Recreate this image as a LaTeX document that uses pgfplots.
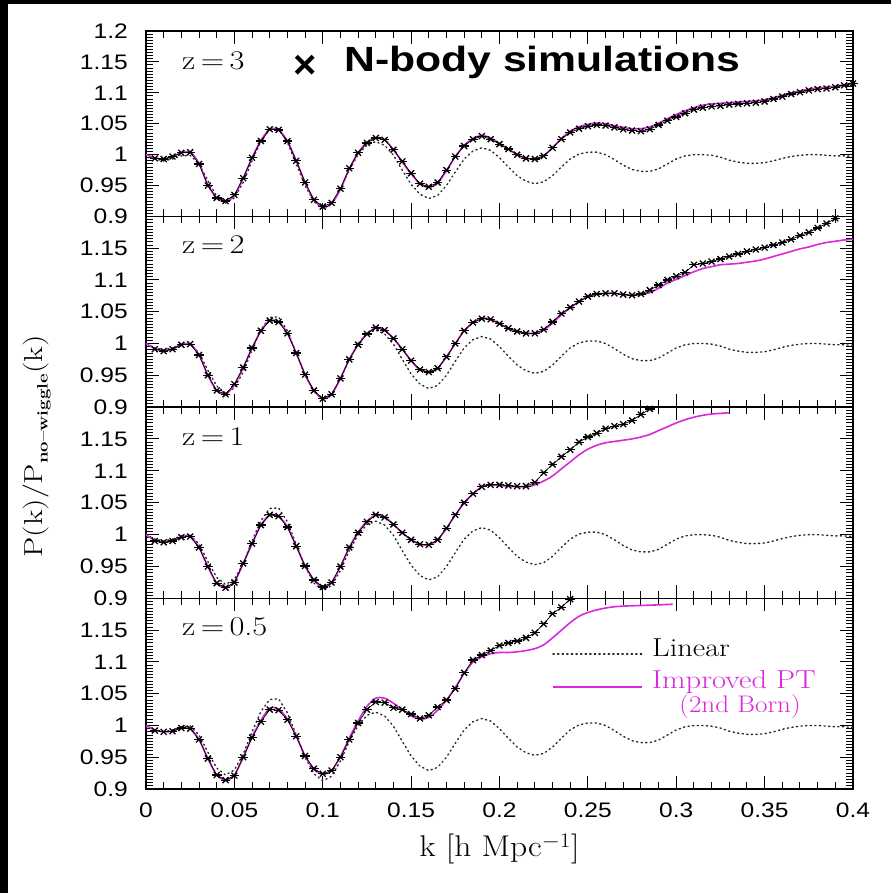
\documentclass[border=0pt]{standalone}
\usepackage{fontspec}
\usepackage{pgfplots}
\pgfplotsset{compat=1.18}
\usepackage{pgfplotstable}
\newfontfamily\tickfont{Liberation Sans}
\definecolor{ptmag}{RGB}{220,40,220}

\pgfplotstableread{
k L
0.000 1.000
0.005 0.993
0.010 0.990
0.015 0.993
0.020 0.998
0.025 0.999
0.030 0.985
0.035 0.958
0.040 0.933
0.045 0.922
0.050 0.930
0.055 0.955
0.060 0.990
0.065 1.022
0.070 1.041
0.075 1.042
0.080 1.020
0.085 0.985
0.090 0.950
0.095 0.924
0.100 0.913
0.105 0.920
0.110 0.944
0.115 0.975
0.120 1.000
0.125 1.016
0.130 1.021
0.135 1.015
0.140 0.999
0.145 0.975
0.150 0.952
0.155 0.936
0.160 0.929
0.165 0.934
0.170 0.950
0.175 0.972
0.180 0.993
0.185 1.006
0.190 1.011
0.195 1.007
0.200 0.995
0.205 0.980
0.210 0.966
0.215 0.957
0.220 0.953
0.225 0.956
0.230 0.966
0.235 0.980
0.240 0.993
0.245 1.001
0.250 1.004
0.255 1.004
0.260 1.000
0.265 0.992
0.270 0.983
0.275 0.976
0.280 0.973
0.285 0.973
0.290 0.977
0.295 0.985
0.300 0.993
0.305 0.998
0.310 1.000
0.315 1.000
0.320 0.999
0.325 0.996
0.330 0.991
0.335 0.988
0.340 0.986
0.345 0.986
0.350 0.987
0.355 0.990
0.360 0.994
0.365 0.997
0.370 0.999
0.375 1.000
0.380 1.000
0.385 0.999
0.390 0.998
0.395 0.998
0.400 0.997
}\Tlin

\pgfplotstableread{
k N PT
0.000 nan 1.000
0.005 0.994 0.995
0.010 0.993 0.993
0.015 0.997 0.997
0.020 1.003 1.003
0.025 1.004 1.004
0.030 0.985 0.986
0.035 0.950 0.951
0.040 0.930 0.930
0.045 0.925 0.924
0.050 0.935 0.934
0.055 0.962 0.962
0.060 0.995 0.995
0.065 1.022 1.023
0.070 1.041 1.041
0.075 1.040 1.040
0.080 1.022 1.022
0.085 0.990 0.990
0.090 0.955 0.955
0.095 0.927 0.927
0.100 0.916 0.915
0.105 0.922 0.921
0.110 0.945 0.944
0.115 0.978 0.977
0.120 1.003 1.003
0.125 1.019 1.020
0.130 1.027 1.027
0.135 1.024 1.024
0.140 1.008 1.008
0.145 0.989 0.988
0.150 0.970 0.969
0.155 0.953 0.953
0.160 0.948 0.947
0.165 0.955 0.954
0.170 0.975 0.974
0.175 0.997 0.997
0.180 1.014 1.015
0.185 1.025 1.026
0.190 1.030 1.031
0.195 1.025 1.027
0.200 1.017 1.018
0.205 1.009 1.009
0.210 1.000 1.000
0.215 0.994 0.994
0.220 0.993 0.993
0.225 0.998 0.998
0.230 1.011 1.011
0.235 1.025 1.026
0.240 1.036 1.038
0.245 1.042 1.045
0.250 1.046 1.049
0.255 1.048 1.051
0.260 1.047 1.050
0.265 1.044 1.047
0.270 1.041 1.044
0.275 1.039 1.042
0.280 1.038 1.042
0.285 1.041 1.045
0.290 1.048 1.051
0.295 1.055 1.058
0.300 1.061 1.065
0.305 1.067 1.071
0.310 1.073 1.076
0.315 1.076 1.080
0.320 1.078 1.082
0.325 1.079 1.083
0.330 1.081 1.084
0.335 1.082 1.085
0.340 1.083 1.086
0.345 1.084 1.087
0.350 1.086 1.089
0.355 1.090 1.092
0.360 1.094 1.096
0.365 1.098 1.100
0.370 1.101 1.103
0.375 1.104 1.106
0.380 1.106 1.108
0.385 1.107 1.109
0.390 1.109 1.111
0.395 1.112 1.113
0.400 1.115 1.116
}\Tthree

\pgfplotstableread{
k N PT
0.000 nan 1.000
0.005 0.991 0.992
0.010 0.988 0.989
0.015 0.991 0.991
0.020 0.998 0.998
0.025 0.999 0.999
0.030 0.982 0.982
0.035 0.950 0.950
0.040 0.926 0.926
0.045 0.920 0.920
0.050 0.936 0.935
0.055 0.962 0.962
0.060 0.993 0.993
0.065 1.020 1.020
0.070 1.036 1.036
0.075 1.034 1.034
0.080 1.016 1.016
0.085 0.985 0.985
0.090 0.951 0.951
0.095 0.926 0.926
0.100 0.913 0.913
0.105 0.920 0.920
0.110 0.945 0.945
0.115 0.975 0.975
0.120 0.998 0.998
0.125 1.015 1.015
0.130 1.025 1.025
0.135 1.021 1.021
0.140 1.008 1.008
0.145 0.991 0.991
0.150 0.973 0.973
0.155 0.959 0.958
0.160 0.955 0.955
0.165 0.961 0.961
0.170 0.979 0.979
0.175 1.000 1.000
0.180 1.020 1.020
0.185 1.033 1.033
0.190 1.039 1.040
0.195 1.038 1.038
0.200 1.031 1.031
0.205 1.024 1.024
0.210 1.019 1.019
0.215 1.016 1.016
0.220 1.016 1.016
0.225 1.022 1.021
0.230 1.034 1.032
0.235 1.047 1.045
0.240 1.057 1.056
0.245 1.066 1.066
0.250 1.074 1.074
0.255 1.078 1.078
0.260 1.079 1.079
0.265 1.079 1.079
0.270 1.077 1.077
0.275 1.076 1.076
0.280 1.078 1.077
0.285 1.084 1.080
0.290 1.092 1.087
0.295 1.100 1.095
0.300 1.106 1.101
0.305 1.112 1.107
0.310 1.124 1.113
0.315 1.126 1.118
0.320 1.129 1.121
0.325 1.133 1.124
0.330 1.137 1.125
0.335 1.141 1.126
0.340 1.145 1.128
0.345 1.148 1.130
0.350 1.151 1.133
0.355 1.155 1.137
0.360 1.159 1.141
0.365 1.164 1.145
0.370 1.170 1.149
0.375 1.175 1.152
0.380 1.182 1.156
0.385 1.189 1.159
0.390 1.197 1.161
0.395 nan 1.163
0.400 nan 1.164
}\Ttwo

\pgfplotstableread{
k N PT
0.000 nan 1.000
0.005 0.990 0.991
0.010 0.988 0.988
0.015 0.990 0.990
0.020 0.996 0.996
0.025 0.997 0.997
0.030 0.980 0.980
0.035 0.950 0.950
0.040 0.924 0.924
0.045 0.917 0.917
0.050 0.925 0.926
0.055 0.955 0.955
0.060 0.986 0.986
0.065 1.015 1.015
0.070 1.031 1.031
0.075 1.029 1.029
0.080 1.012 1.012
0.085 0.982 0.982
0.090 0.951 0.951
0.095 0.929 0.929
0.100 0.918 0.918
0.105 0.925 0.925
0.110 0.950 0.950
0.115 0.980 0.980
0.120 1.003 1.004
0.125 1.020 1.021
0.130 1.031 1.031
0.135 1.027 1.028
0.140 1.016 1.016
0.145 1.003 1.003
0.150 0.992 0.992
0.155 0.985 0.985
0.160 0.984 0.984
0.165 0.992 0.992
0.170 1.010 1.010
0.175 1.031 1.031
0.180 1.050 1.050
0.185 1.064 1.064
0.190 1.075 1.075
0.195 1.078 1.078
0.200 1.078 1.077
0.205 1.077 1.076
0.210 1.076 1.075
0.215 1.076 1.075
0.220 1.082 1.078
0.225 1.097 1.084
0.230 1.110 1.092
0.235 1.122 1.103
0.240 1.133 1.114
0.245 1.145 1.125
0.250 1.153 1.134
0.255 1.159 1.140
0.260 1.166 1.144
0.265 1.170 1.146
0.270 1.173 1.148
0.275 1.179 1.150
0.280 1.188 1.153
0.285 1.197 1.157
0.290 nan 1.163
0.295 nan 1.169
0.300 nan 1.175
0.305 nan 1.180
0.310 nan 1.184
0.315 nan 1.187
0.320 nan 1.189
0.325 nan 1.190
0.330 nan 1.191
}\Tone

\pgfplotstableread{
k N PT
0.000 nan 1.000
0.005 0.992 0.993
0.010 0.990 0.990
0.015 0.991 0.991
0.020 0.996 0.996
0.025 0.995 0.995
0.030 0.978 0.978
0.035 0.948 0.948
0.040 0.922 0.922
0.045 0.914 0.914
0.050 0.921 0.922
0.055 0.950 0.950
0.060 0.981 0.982
0.065 1.006 1.008
0.070 1.025 1.027
0.075 1.024 1.026
0.080 1.009 1.010
0.085 0.983 0.983
0.090 0.952 0.952
0.095 0.932 0.931
0.100 0.924 0.923
0.105 0.929 0.929
0.110 0.950 0.951
0.115 0.978 0.980
0.120 1.004 1.007
0.125 1.025 1.030
0.130 1.037 1.043
0.135 1.036 1.043
0.140 1.028 1.035
0.145 1.025 1.025
0.150 1.018 1.015
0.155 1.011 1.010
0.160 1.016 1.013
0.165 1.029 1.024
0.170 1.040 1.040
0.175 1.058 1.060
0.180 1.083 1.082
0.185 1.103 1.100
0.190 1.111 1.108
0.195 1.118 1.113
0.200 1.126 1.115
0.205 1.130 1.115
0.210 1.133 1.116
0.215 1.138 1.118
0.220 1.146 1.121
0.225 1.160 1.127
0.230 1.176 1.138
0.235 1.186 1.150
0.240 1.199 1.162
0.245 nan 1.172
0.250 nan 1.178
0.255 nan 1.182
0.260 nan 1.185
0.265 nan 1.187
0.270 nan 1.188
0.280 nan 1.189
0.290 nan 1.190
0.298 nan 1.191
}\Thalf

\tikzset{
  lin/.style={black!85, line width=1.4pt, dash pattern=on 1.2pt off 3.4pt, line cap=round},
  pt/.style={ptmag, line width=1.6pt, smooth},
  nb/.style={black, line width=0.7pt, mark=x, mark size=4.2pt, mark options={line width=1.3pt, solid}},
  nbb/.style={black, only marks, mark=-, mark size=4.8pt, mark options={line width=1.2pt}},
}
\pgfplotsset{
  panel/.style={
    scale only axis, width=707pt,
    xmin=0, xmax=0.4, ymin=0.9, ymax=1.2,
    xtick={0,0.05,0.1,0.15,0.2,0.25,0.3,0.35,0.4},
    ytick={0.9,0.95,1,1.05,1.1,1.15,1.2},
    minor x tick num=4, minor y tick num=9,
    tick align=inside, xtick pos=both, ytick pos=both,
    major tick length=13pt, minor tick length=7pt,
    every tick/.style={black, line width=1pt},
    axis line style={black, line width=1.4pt},
    yticklabels={0.9,0.95,1,1.05,1.1,1.15,{}},
    yticklabel style={font=\tickfont\fontsize{21}{21}\selectfont, inner sep=0pt, xshift=-18pt, xscale=1.17},
    xticklabel style={font=\tickfont\fontsize{21}{21}\selectfont, inner sep=0pt, yshift=-14pt, xscale=1.17},
  },
  nolab/.style={xticklabels={\empty,\empty,\empty,\empty,\empty,\empty,\empty,\empty,\empty}},
}

\begin{document}
\begin{tikzpicture}
\fill[black] (0,0) rectangle (891pt,893pt);
\fill[white] (7.5pt,0) rectangle (891pt,888.5pt);
\path[use as bounding box] (0,0) rectangle (891pt,893pt);

% z=3
\begin{axis}[panel, nolab, height=185.5pt, at={(146pt,676.5pt)}, anchor=south west,
  yticklabels={0.9,0.95,1,1.05,1.1,1.15,1.2}]
\addplot[lin] table[x=k,y=L]{\Tlin};
\addplot[pt] table[x=k,y=PT]{\Tthree};
\addplot[nb] table[x=k,y=N]{\Tthree};
\addplot[nbb] table[x=k,y=N]{\Tthree};
\end{axis}

% z=2
\begin{axis}[panel, nolab, height=190.5pt, at={(146pt,486pt)}, anchor=south west]
\addplot[lin] table[x=k,y=L]{\Tlin};
\addplot[pt] table[x=k,y=PT]{\Ttwo};
\addplot[nb] table[x=k,y=N]{\Ttwo};
\addplot[nbb] table[x=k,y=N]{\Ttwo};
\end{axis}

% z=1
\begin{axis}[panel, nolab, height=191.5pt, at={(146pt,294.5pt)}, anchor=south west]
\addplot[lin] table[x=k,y=L]{\Tlin};
\addplot[pt] table[x=k,y=PT]{\Tone};
\addplot[nb] table[x=k,y=N]{\Tone};
\addplot[nbb] table[x=k,y=N]{\Tone};
\end{axis}

% z=0.5
\begin{axis}[panel, height=190.5pt, at={(146pt,104pt)}, anchor=south west,
  xticklabels={0,0.05,0.1,0.15,0.2,0.25,0.3,0.35,0.4}]
\addplot[lin] table[x=k,y=L]{\Tlin};
\addplot[pt] table[x=k,y=PT]{\Thalf};
\addplot[nb] table[x=k,y=N]{\Thalf};
\addplot[nbb] table[x=k,y=N]{\Thalf};
\end{axis}

% panel labels
\node[anchor=west, inner sep=0pt, font=\fontsize{27}{27}\selectfont, xscale=1.2] at (182pt,832pt) {z\,=\,3};
\node[anchor=west, inner sep=0pt, font=\fontsize{27}{27}\selectfont, xscale=1.2] at (182pt,648pt) {z\,=\,2};
\node[anchor=west, inner sep=0pt, font=\fontsize{27}{27}\selectfont, xscale=1.2] at (182pt,456pt) {z\,=\,1};
\node[anchor=west, inner sep=0pt, font=\fontsize{27}{27}\selectfont, xscale=1.2] at (182pt,266pt) {z\,=\,0.5};

% N-body label
\node[font=\tickfont\bfseries\fontsize{40}{40}\selectfont, inner sep=0pt] at (305pt,826pt) {×};
\node[anchor=base west, inner sep=0pt, font=\tickfont\bfseries\fontsize{35}{35}\selectfont, xscale=1.22] at (344pt,821pt) {N-body simulations};

% legend
\draw[lin] (553pt,239pt) -- (642pt,239pt);
\draw[ptmag, line width=1.5pt] (553pt,206pt) -- (642pt,206pt);
\node[anchor=base west, inner sep=0pt, font=\fontsize{26}{26}\selectfont, xscale=1.17] at (652pt,236pt) {Linear};
\node[anchor=base west, inner sep=0pt, font=\fontsize{26}{26}\selectfont, xscale=1.17, text=ptmag] at (652pt,204pt) {Improved PT};
\node[anchor=base, inner sep=0pt, font=\fontsize{24}{24}\selectfont, xscale=1.13, text=ptmag] at (740pt,180pt) {(2nd Born)};

% axis labels
\node[font=\fontsize{30}{30}\selectfont, xscale=1.12] at (499.5pt,44pt) {k [h Mpc$^{-1}$]};
\node[rotate=90, xscale=1.24, font=\fontsize{26}{26}\selectfont] at (37pt,446.5pt)
  {P(k)/P\raisebox{-5pt}{\fontsize{15}{15}\selectfont\bfseries no--wiggle}(k)};
\end{tikzpicture}
\end{document}
